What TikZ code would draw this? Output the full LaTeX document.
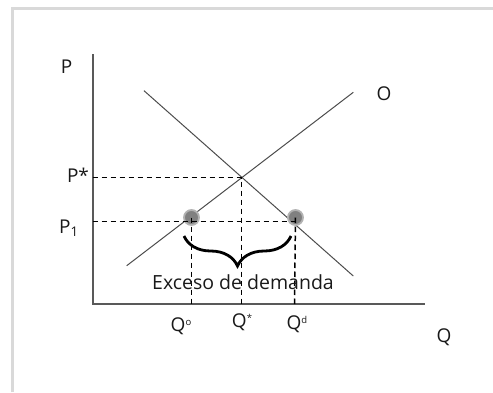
\documentclass[tikz,border=0pt]{standalone}
\usepackage{fontspec}
\setmainfont{Open Sans}
\usepackage{tikz}
\usetikzlibrary{decorations.pathreplacing}
\newcommand{\supsm}[1]{\raisebox{6pt}{\fontsize{9.5}{10}\selectfont #1}}

\begin{document}
\begin{tikzpicture}[x=1pt,y=-1pt,
  axis/.style={line width=2pt,draw=black!65},
  curve/.style={line width=1pt,draw=black!70},
  guide/.style={line width=1.5pt,dash pattern=on 5.5pt off 3.5pt},
  dot/.style={circle,fill=black!50,draw=black!30,line width=1.8pt,inner sep=0pt,minimum size=15pt},
  lbl/.style={font=\fontsize{19}{22}\selectfont,text=black!90}]
  \useasboundingbox (0,0) rectangle (493,392);
  \draw[black!15,line width=3pt] (12,392) -- (12,8) -- (493,8);
  % ejes
  \coordinate (orig) at (92.7,304);
  \coordinate (ytop) at (92.7,54);
  \coordinate (xend) at (425,304);
  \draw[axis] (ytop) -- (orig) -- (xend);
  % oferta y demanda
  \coordinate (o1) at (126.7,265.7);
  \coordinate (o2) at (353.3,92.3);
  \coordinate (d1) at (144,90.7);
  \coordinate (d2) at (353.3,276);
  \draw[curve] (o1) -- (o2);
  \draw[curve] (d1) -- (d2);
  % equilibrio y precio P1
  \coordinate (eq) at (241.7,177.7);
  \coordinate (pstar) at (92.7,177.7);
  \coordinate (pone) at (92.7,221.7);
  \coordinate (ponee) at (295,221.7);
  \coordinate (qstar) at (241.7,304);
  \coordinate (qo) at (191.5,304);
  \coordinate (qd) at (294.5,304);
  \node[dot] (so) at (191.5,217.5) {};
  \node[dot] (sd) at (295.5,217.5) {};
  \draw[guide] (pstar) -- (eq) -- (qstar);
  \draw[guide] (pone) -- (ponee);
  \draw[guide] (so.center) -- (qo);
  \draw[guide] (sd.center) -- (qd);
  % exceso
  \coordinate (bl) at (184,236);
  \coordinate (br) at (291,236);
  \draw[line width=2.8pt,decorate,decoration={brace,mirror,amplitude=30pt}] (bl) -- (br);
  \node[font=\fontsize{19.5}{22}\selectfont,text=black!90] (exc) at (243,282) {Exceso de demanda};
  % etiquetas
  \node[lbl] (lp) at (66.7,67) {P};
  \node[lbl] (lo) at (384,94) {O};
  \node[lbl] (lps) at (78,175) {P*};
  \node[lbl] (lp1) at (69,228) {P\textsubscript{1}};
  \node[lbl] (lqo) at (181,326) {Q\supsm{o}};
  \node[lbl] (lqs) at (242,322) {Q\supsm{*}};
  \node[lbl] (lqd) at (297,324) {Q\supsm{d}};
  \node[lbl] (lq) at (444,337) {Q};
\end{tikzpicture}
\end{document}
